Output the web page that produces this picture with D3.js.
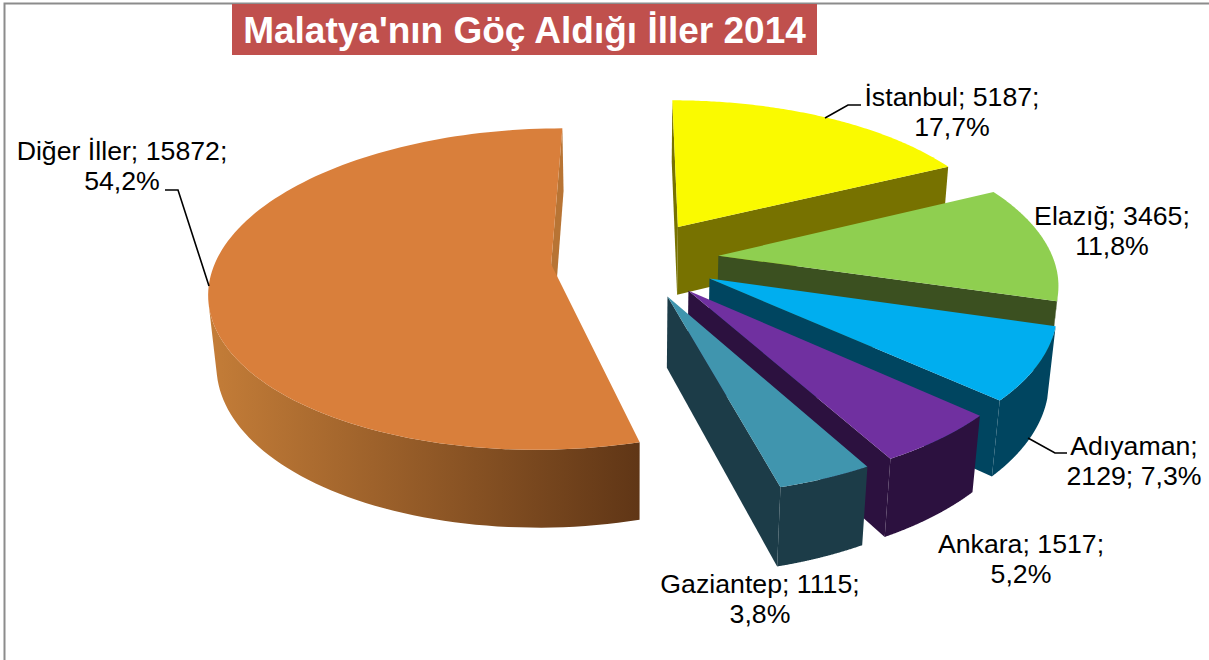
<!DOCTYPE html>
<html>
<head>
<meta charset="utf-8">
<script src="https://cdn.jsdelivr.net/npm/d3@7"></script>
<style>
html, body { margin: 0; padding: 0; background: #fff; overflow: hidden; }
text { font-family: "Liberation Sans", Arial, sans-serif; }
</style>
</head>
<body>
<div id="chart"></div>
<script>
// Données
var categories = ["İstanbul", "Elazığ", "Adıyaman", "Ankara", "Gaziantep", "Diğer İller"];
var values = [5187, 3465, 2129, 1517, 1115, 15872];
var percents = ["17,7%", "11,8%", "7,3%", "5,2%", "3,8%", "54,2%"];
var title = "Malatya'nın Göç Aldığı İller 2014";

// Couleurs
var topColors = ["#fafa00", "#8fcf50", "#00aeef", "#7030a0", "#4095ae", "#d97f3b"];
var edgeColors = ["#777200", "#3b5020", "#004560", "#2c113f", "#1c3c48", "#b87434"];
var wallLight = ["#777200", "#3b5020", "#004560", "#2c113f", "#1c3c48", "#c47d38"];
var wallDark = ["#777200", "#3b5020", "#004560", "#2c113f", "#1c3c48", "#603616"];

// Etiquettes : première ligne, seconde ligne, centre x, ligne de base y
var labelFirst = ["İstanbul; 5187;", "Elazığ; 3465;", "Adıyaman;", "Ankara; 1517;", "Gaziantep; 1115;", "Diğer İller; 15872;"];
var labelSecond = ["17,7%", "11,8%", "2129; 7,3%", "5,2%", "3,8%", "54,2%"];
var labelPos = [[952, 106], [1112, 225], [1134, 455], [1021, 553], [760, 593], [122, 160]];
var leaders = [
  [[825, 118], [848, 105], [861, 105]],
  [[1028, 438], [1055, 453], [1067, 453]],
  [[209, 286], [178, 190], [165, 190]]
];

// Projection perspective du camembert
var cam = {cx: 634.9, cy: 259.1, f: 1931.3, e: 0.4821, D: 5.766, explode: 0.2509, h: 0.238};

function project(d, r, a, z) {
  var mid = (d.startAngle + d.endAngle) / 2;
  var X = cam.explode * Math.sin(mid) + r * Math.sin(a);
  var Y = cam.explode * Math.cos(mid) + r * Math.cos(a);
  var Z = -z * cam.h;
  var depth = cam.D + Y * Math.cos(cam.e) - Z * Math.sin(cam.e);
  var v = Y * Math.sin(cam.e) + Z * Math.cos(cam.e);
  return [cam.cx + cam.f * X / depth, cam.cy - cam.f * v / depth];
}

var svg = d3.select("#chart")
  .append("svg")
    .attr("width", 1209)
    .attr("height", 660);

// Cadre du graphique
svg.append("path")
  .attr("d", "M4.5,660V3.5H1209")
  .attr("fill", "none")
  .attr("stroke", "#8c8c8c")
  .attr("stroke-width", 2);

var slices = d3.pie().sort(null)(values);
var line = d3.line();
var defs = svg.append("defs");

slices.forEach(function(d, i) {
  var angles = d3.range(0, 121).map(function(k) {
    return d.startAngle + (d.endAngle - d.startAngle) * k / 120;
  });
  var topArc = angles.map(function(a) { return project(d, 1, a, 0); });
  var lowArc = angles.map(function(a) { return project(d, 1, a, 1); });
  var g = svg.append("g").attr("class", "slice");

  // Paroi extérieure : seules les facettes tournées vers l'observateur
  // (d3.polygonArea est positif dans ce sens de parcours)
  var facets = "";
  var xs = [];
  d3.range(0, 120).forEach(function(k) {
    var quad = [topArc[k], topArc[k + 1], lowArc[k + 1], lowArc[k]];
    if (d3.polygonArea(quad) > 0) {
      facets += line(quad) + "Z";
      xs.push(quad[0][0], quad[1][0], quad[2][0], quad[3][0]);
    }
  });
  var grad = defs.append("linearGradient")
    .attr("id", "wall" + i)
    .attr("gradientUnits", "userSpaceOnUse")
    .attr("x1", d3.min(xs)).attr("x2", d3.max(xs)).attr("y1", 0).attr("y2", 0);
  grad.append("stop").attr("offset", 0).attr("stop-color", wallLight[i]);
  grad.append("stop").attr("offset", 1).attr("stop-color", wallDark[i]);
  g.append("path")
    .attr("d", facets)
    .attr("fill", "url(#wall" + i + ")");

  // Faces internes visibles
  [[d.startAngle, 1], [d.endAngle, -1]].forEach(function(side) {
    var a = side[0];
    var quad = [project(d, 0, a, 0), project(d, 1, a, 0), project(d, 1, a, 1), project(d, 0, a, 1)];
    if (d3.polygonArea(quad) * side[1] > 0) {
      g.append("path")
        .attr("d", line(quad) + "Z")
        .attr("fill", edgeColors[i]);
    }
  });

  // Dessus
  g.append("path")
    .attr("d", line([project(d, 0, d.startAngle, 0)].concat(topArc)) + "Z")
    .attr("fill", topColors[i]);
});

// Lignes de rappel
svg.selectAll(".leader")
  .data(leaders)
  .enter()
  .append("path")
    .attr("class", "leader")
    .attr("d", function(d) { return line(d); })
    .attr("fill", "none")
    .attr("stroke", "#000")
    .attr("stroke-width", 1.6);

// Etiquettes
categories.forEach(function(c, i) {
  [labelFirst[i], labelSecond[i]].forEach(function(t, k) {
    svg.append("text")
      .attr("x", labelPos[i][0])
      .attr("y", labelPos[i][1] + k * 30)
      .attr("text-anchor", "middle")
      .attr("font-size", 26.7)
      .attr("fill", "#000")
      .text(t);
  });
});

// Titre
svg.append("rect")
  .attr("x", 232).attr("y", 4)
  .attr("width", 585).attr("height", 51)
  .attr("fill", "#c0504d");
svg.append("text")
  .attr("x", 524.5)
  .attr("y", 43)
  .attr("text-anchor", "middle")
  .attr("font-size", 37)
  .attr("font-weight", "bold")
  .attr("fill", "#fff")
  .text(title);
</script>
</body>
</html>
